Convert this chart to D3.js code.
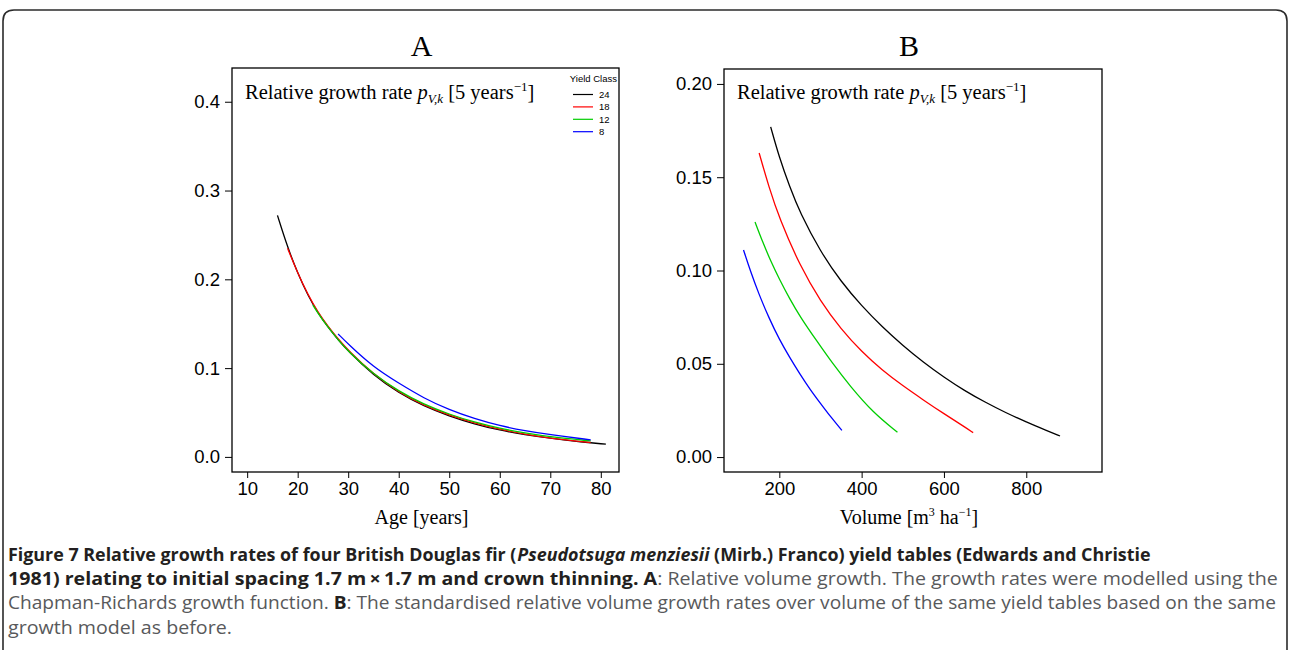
<html>
<head>
<meta charset="utf-8">
<script src="https://d3js.org/d3.v7.min.js"></script>
<style>
body { margin: 0; background: #fff; }
svg { display: block; }
</style>
</head>
<body>
<div id="chart"></div>
<script>
	// yield classes and their line colours
	var yieldClasses = ["24", "18", "12", "8"];
	var classColors = ["#000000", "#ff0000", "#00cd00", "#0000ff"];

	// panel A : relative growth rate over age
	var ageA24 = [16, 18, 20, 22, 24, 26, 28, 30, 35, 40, 45, 50, 55, 60, 65, 70, 75, 81];
	var rateA24 = [0.272, 0.236, 0.207, 0.182, 0.162, 0.146, 0.132, 0.119, 0.092, 0.072, 0.057, 0.046, 0.037, 0.030, 0.025, 0.021, 0.0175, 0.0143];
	var ageA18 = [18, 20, 22, 24, 26, 28, 30, 35, 40, 45, 50, 55, 60, 65, 70, 78];
	var rateA18 = [0.235, 0.207, 0.183, 0.163, 0.147, 0.133, 0.120, 0.093, 0.073, 0.058, 0.047, 0.038, 0.031, 0.0255, 0.021, 0.0162];
	var ageA12 = [23, 24, 26, 28, 30, 35, 40, 45, 50, 55, 60, 65, 70, 78];
	var rateA12 = [0.171, 0.162, 0.146, 0.132, 0.119, 0.093, 0.074, 0.059, 0.048, 0.039, 0.032, 0.027, 0.0225, 0.018];
	var ageA8 = [28, 30, 35, 40, 45, 50, 55, 60, 65, 70, 78];
	var rateA8 = [0.1385, 0.127, 0.101, 0.083, 0.066, 0.053, 0.043, 0.035, 0.0295, 0.025, 0.0192];

	// panel B : relative growth rate over volume
	var volB24 = [179, 200, 225, 250, 300, 350, 400, 450, 500, 550, 600, 650, 700, 750, 800, 850, 882];
	var rateB24 = [0.177, 0.1605, 0.145, 0.131, 0.110, 0.094, 0.081, 0.0698, 0.0598, 0.0508, 0.0428, 0.0356, 0.0294, 0.0238, 0.0188, 0.0142, 0.0113];
	var volB18 = [151, 175, 200, 250, 300, 350, 400, 450, 500, 550, 600, 650, 671];
	var rateB18 = [0.163, 0.1445, 0.128, 0.1025, 0.0835, 0.0685, 0.0565, 0.0465, 0.0382, 0.0306, 0.0232, 0.0162, 0.0131];
	var volB12 = [141, 160, 180, 200, 225, 250, 291, 330, 372, 428, 487];
	var rateB12 = [0.126, 0.115, 0.1046, 0.0954, 0.0849, 0.0754, 0.0622, 0.050, 0.038, 0.0238, 0.0133];
	var volB8 = [113, 130, 150, 175, 200, 225, 250, 275, 300, 325, 352];
	var rateB8 = [0.111, 0.0995, 0.0875, 0.0745, 0.063, 0.0535, 0.0445, 0.0362, 0.0288, 0.0215, 0.0143];

	// tick labels
	var ticksAx = [10, 20, 30, 40, 50, 60, 70, 80];
	var ticksAy = [0, 0.1, 0.2, 0.3, 0.4];
	var ticksBx = [200, 400, 600, 800];
	var ticksBy = [0, 0.05, 0.10, 0.15, 0.20];

	var serif = "'Liberation Serif', 'DejaVu Serif', serif";
	var sans = "'Liberation Sans', Arial, sans-serif";

	var svg = d3.select("#chart").append("svg")
		.attr("width", 1289)
		.attr("height", 650);

	svg.append("rect").attr("width", 1289).attr("height", 650).attr("fill", "#fff");

	// outer frame with rounded top corners
	svg.append("path")
		.attr("d", "M3,652 V21 Q3,10 14,10 H1276 Q1287,10 1287,21 V652")
		.attr("fill", "none")
		.attr("stroke", "#2b2b2b")
		.attr("stroke-width", 1.6);

	function zipSeries(xs, ys) {
		return xs.map((v, i) => [v, ys[i]]);
	}

	function panel(opt) {
		var g = svg.append("g");
		var x = d3.scaleLinear().domain(opt.xDomain).range([opt.left, opt.right]);
		var y = d3.scaleLinear().domain(opt.yDomain).range([opt.bottom, opt.top]);

		g.append("g")
			.attr("transform", `translate(${opt.left},0)`)
			.call(d3.axisLeft(y).tickValues(opt.yTicks).tickSize(7).tickPadding(5).tickFormat(d3.format(opt.yFormat)))
			.call(a => a.select(".domain").remove())
			.call(a => a.selectAll("text").style("font-family", sans).style("font-size", "18.5px").attr("fill", "#000"));

		g.append("g")
			.attr("transform", `translate(0,${opt.bottom})`)
			.call(d3.axisBottom(x).tickValues(opt.xTicks).tickSize(6).tickPadding(4).tickFormat(d3.format("d")))
			.call(a => a.select(".domain").remove())
			.call(a => a.selectAll("text").style("font-family", sans).style("font-size", "18.5px").attr("fill", "#000"));

		g.append("rect")
			.attr("x", opt.left).attr("y", opt.top)
			.attr("width", opt.right - opt.left).attr("height", opt.bottom - opt.top)
			.attr("fill", "none").attr("stroke", "#000").attr("stroke-width", 1.3);

		var line = d3.line()
			.x(d => x(d[0]))
			.y(d => y(d[1]))
			.curve(d3.curveBasis);

		g.selectAll("path.series")
			.data(opt.series)
			.join("path")
			.attr("class", "series")
			.attr("d", d => line(d.values))
			.attr("fill", "none")
			.attr("stroke", d => d.color)
			.attr("stroke-width", 1.3);

		// panel letter
		g.append("text")
			.attr("x", (opt.left + opt.right) / 2 - 4)
			.attr("y", 56)
			.attr("text-anchor", "middle")
			.style("font-family", serif)
			.style("font-size", "30px")
			.text(opt.letter);

		// inner title with math
		var t = g.append("text")
			.attr("x", opt.left + 13)
			.attr("y", 99)
			.style("font-family", serif)
			.style("font-size", "20.5px");
		t.append("tspan").text("Relative growth rate ");
		t.append("tspan").style("font-style", "italic").text("p");
		t.append("tspan").attr("dy", 4).style("font-size", "13px").style("font-style", "italic").text("V,k");
		t.append("tspan").attr("dy", -4).text(" [5 years");
		t.append("tspan").attr("dy", -8).style("font-size", "13px").text("\u22121");
		t.append("tspan").attr("dy", 8).text("]");

		// x axis label
		var xl = g.append("text")
			.attr("x", (opt.left + opt.right) / 2 - 4)
			.attr("y", 524)
			.attr("text-anchor", "middle")
			.style("font-family", serif)
			.style("font-size", "20px");
		opt.xLabel(xl);

		return g;
	}

	panel({
		left: 232, right: 619, top: 68, bottom: 472,
		xDomain: [7.0, 83.6], yDomain: [-0.017, 0.438],
		xTicks: ticksAx, yTicks: ticksAy, yFormat: ".1f",
		letter: "A",
		xLabel: t => t.text("Age [years]"),
		series: [
			{ color: classColors[0], values: zipSeries(ageA24, rateA24) },
			{ color: classColors[1], values: zipSeries(ageA18, rateA18) },
			{ color: classColors[2], values: zipSeries(ageA12, rateA12) },
			{ color: classColors[3], values: zipSeries(ageA8, rateA8) }
		]
	});

	panel({
		left: 724, right: 1102, top: 69, bottom: 472,
		xDomain: [65.6, 984], yDomain: [-0.008, 0.208],
		xTicks: ticksBx, yTicks: ticksBy, yFormat: ".2f",
		letter: "B",
		xLabel: function(t) {
			t.append("tspan").text("Volume [m");
			t.append("tspan").attr("dy", -8).style("font-size", "12px").text("3");
			t.append("tspan").attr("dy", 8).text(" ha");
			t.append("tspan").attr("dy", -8).style("font-size", "12px").text("\u22121");
			t.append("tspan").attr("dy", 8).text("]");
		},
		series: [
			{ color: classColors[0], values: zipSeries(volB24, rateB24) },
			{ color: classColors[1], values: zipSeries(volB18, rateB18) },
			{ color: classColors[2], values: zipSeries(volB12, rateB12) },
			{ color: classColors[3], values: zipSeries(volB8, rateB8) }
		]
	});

	// legend in panel A
	var legend = svg.append("g").style("font-family", sans).style("font-size", "9.5px");
	legend.append("text").attr("x", 617).attr("y", 82).attr("text-anchor", "end").text("Yield Class");
	var rows = legend.selectAll("g.row")
		.data(yieldClasses)
		.join("g")
		.attr("class", "row")
		.attr("transform", (d, i) => `translate(0,${94.5 + i * 12.4})`);
	rows.append("line")
		.attr("x1", 573).attr("x2", 593)
		.attr("stroke", (d, i) => classColors[i])
		.attr("stroke-width", 1.2);
	rows.append("text")
		.attr("x", 599).attr("y", 3.5)
		.text(d => d);

	// caption, condensed by a horizontal scale to the reference line widths
	var capFont = "'Open Sans', 'Noto Sans', sans-serif";
	var dark = "#231f20", grey = "#58595b";
	var caption = [
		{ y: 561, len: 1142, parts: [
			["b", "Figure 7 Relative growth rates of four British Douglas fir ("],
			["bi", "Pseudotsuga menziesii"],
			["b", " (Mirb.) Franco) yield tables (Edwards and Christie"] ] },
		{ y: 585, len: 1271, parts: [
			["b", "1981) relating to initial spacing 1.7 m\u2009\u00d7\u20091.7 m and crown thinning. A"],
			["r", ": Relative volume growth. The growth rates were modelled using the"] ] },
		{ y: 609, len: 1269, parts: [
			["r", "Chapman-Richards growth function. "],
			["b", "B"],
			["r", ": The standardised relative volume growth rates over volume of the same yield tables based on the same"] ] },
		{ y: 634, len: 224, parts: [
			["r", "growth model as before."] ] }
	];
	caption.forEach(function(line) {
		var t = svg.append("text")
			.attr("x", 0).attr("y", 0)
			.style("font-family", capFont)
			.style("font-size", "18.5px");
		line.parts.forEach(function(p) {
			t.append("tspan")
				.attr("dx", p[0] === "bi" ? 1 : null)
				.style("font-weight", p[0] === "r" ? "normal" : "bold")
				.style("font-style", p[0] === "bi" ? "italic" : "normal")
				.attr("fill", p[0] === "r" ? grey : dark)
				.text(p[1]);
		});
		var w = t.node().getComputedTextLength();
		t.attr("transform", `translate(8,${line.y}) scale(${line.len / w},1)`);
	});
</script>
</body>
</html>
